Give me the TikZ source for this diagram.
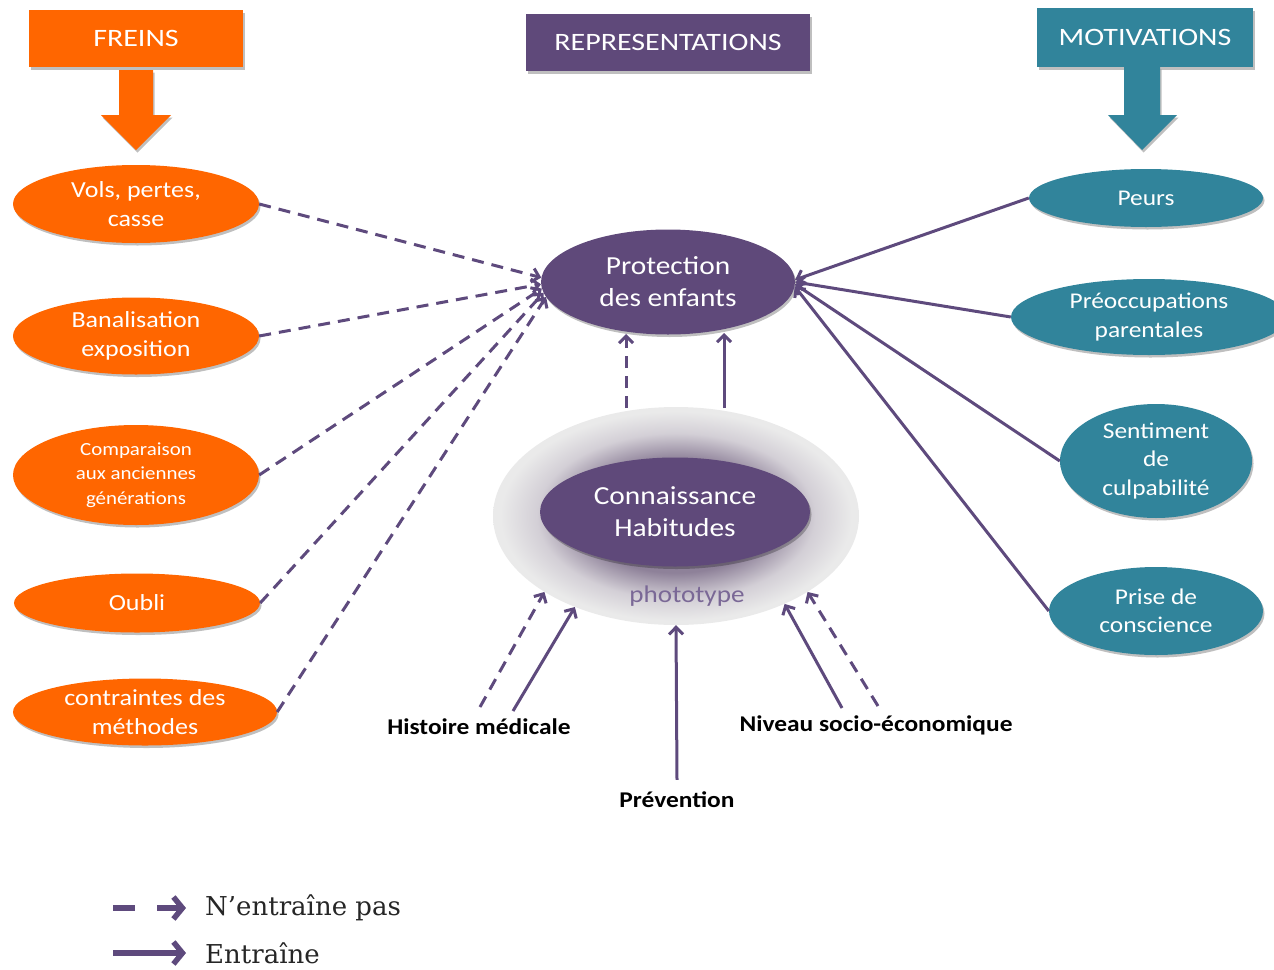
\documentclass[tikz,border=0pt]{standalone}
\usepackage{fontspec}
\setmainfont{Carlito}[FakeStretch=1.13]
\newfontfamily\hdrfont{Carlito}[FakeStretch=1.2]
\newfontfamily\legendfont{DejaVu Serif}
\usetikzlibrary{shapes.geometric,arrows.meta,shadows}
\definecolor{frein}{HTML}{FF6600}
\definecolor{repr}{HTML}{5F497A}
\definecolor{motiv}{HTML}{31849B}
\definecolor{conn}{HTML}{5E4A7D}
\definecolor{photo}{HTML}{7A6896}
\definecolor{glowA}{HTML}{8E8199}
\definecolor{glowB}{HTML}{D3CFD6}
\definecolor{glowC}{HTML}{EAEAEA}
\pgfdeclareradialshading{glowshade}{\pgfpoint{0bp}{0bp}}{color(0bp)=(glowA); color(13bp)=(glowA); color(19bp)=(glowB); color(24bp)=(glowC); color(25bp)=(glowC); color(50bp)=(white)}
\tikzset{
  shd/.style={drop shadow={shadow xshift=1.5pt,shadow yshift=-2.5pt,opacity=0.25,fill=black}},
  header/.style={rectangle,text=white,inner sep=0pt,font=\hdrfont\fontsize{25}{28}\selectfont,shd},
  frellipse/.style={ellipse,fill=frein,text=white,inner sep=0pt,align=center,font=\fontsize{23}{28.5}\selectfont,shd},
  motellipse/.style={ellipse,fill=motiv,text=white,inner sep=0pt,align=center,font=\fontsize{22.5}{28.5}\selectfont,shd},
  repellipse/.style={ellipse,fill=repr,text=white,inner sep=0pt,align=center,font=\fontsize{26}{32}\selectfont,shd},
  blab/.style={font=\bfseries\fontsize{22.5}{26}\selectfont,text=black,inner sep=0pt},
  tip/.style={-{Straight Barb[length=7pt,width=14pt]}},
  notlink/.style={draw=conn,line width=3pt,dash pattern=on 12pt off 8pt,tip},
  yeslink/.style={draw=conn,line width=3pt,tip},
  legtext/.style={font=\legendfont\fontsize{26}{30}\selectfont,text=black!85,anchor=west,inner sep=0pt},
  legarrow/.style={draw=conn,line width=5.5pt,-{Straight Barb[length=9pt,width=22pt]}},
}
\begin{document}
\begin{tikzpicture}[x=1pt,y=-1pt]
\useasboundingbox (0,0) rectangle (1274,969);

% headers
\node[header,fill=frein,minimum width=214pt,minimum height=57pt] (freins) at (136,38.5) {FREINS};
\node[header,fill=repr,minimum width=284pt,minimum height=57pt] (repres) at (668,42.5) {REPRESENTATIONS};
\node[header,fill=motiv,minimum width=216pt,minimum height=59pt] (motiv) at (1145,37.5) {MOTIVATIONS};

% block arrows
\fill[frein,shd] (119,70) -- (153,70) -- (153,115) -- (171,115) -- (136,150) -- (101,115) -- (119,115) -- cycle;
\fill[motiv,shd] (1124,67) -- (1160,67) -- (1160,115) -- (1177,115) -- (1142,150) -- (1108,115) -- (1124,115) -- cycle;

% glow behind Connaissance
\node[ellipse,shading=glowshade,minimum width=366pt,minimum height=218pt,inner sep=0pt] (glow) at (676,516) {};

% central nodes
\node[repellipse,minimum width=254pt,minimum height=105pt] (prot) at (668,282) {Protection\\des enfants};
\node[repellipse,minimum width=270pt,minimum height=109pt] (conn) at (675,512) {Connaissance\\Habitudes};
\node[text=photo,font=\fontsize{24}{28}\selectfont,inner sep=0pt] (photo) at (687,596) {phototype};

% left nodes
\node[frellipse,minimum width=246pt,minimum height=78pt] (vols) at (136,204) {Vols, pertes,\\casse};
\node[frellipse,minimum width=246pt,minimum height=77pt] (banal) at (136,336) {Banalisation\\exposition};
\node[frellipse,minimum width=246pt,minimum height=100pt,font=\fontsize{18.5}{24.5}\selectfont] (compar) at (136,475) {Comparaison\\aux anciennes\\générations};
\node[frellipse,minimum width=246pt,minimum height=59pt] (oubli) at (137,603) {Oubli};
\node[frellipse,minimum width=264pt,minimum height=67pt] (contr) at (145,712) {contraintes des\\méthodes};

% right nodes
\node[motellipse,minimum width=234pt,minimum height=58pt] (peurs) at (1146,198) {Peurs};
\node[motellipse,minimum width=276pt,minimum height=76pt] (preocc) at (1149,317) {Préoccupations\\parentales};
\node[motellipse,minimum width=192pt,minimum height=114pt] (sent) at (1156,461) {Sentiment\\de\\culpabilité};
\node[motellipse,minimum width=214pt,minimum height=88pt] (prise) at (1156,611) {Prise de\\conscience};

% bottom labels
\node[blab] (hist) at (479,727) {Histoire médicale};
\node[blab] (prev) at (677,800) {Prévention};
\node[blab] (niv) at (876,725) {Niveau socio-économique};

% left connectors (dashed)
\draw[notlink] (vols.east) -- (prot.178);
\draw[notlink] (banal.east) -- (prot.181);
\draw[notlink] (compar.east) -- (prot.183);
\draw[notlink] (oubli.east) -- (prot.185);
\draw[notlink] (contr.east) -- (prot.187);

% right connectors (solid)
\draw[yeslink] (peurs.west) -- (prot.1);
\draw[yeslink] (preocc.west) -- (prot.east);
\draw[yeslink] (sent.west) -- (prot.359);
\draw[yeslink] (prise.west) -- (prot.358);

% vertical connectors from glow to Protection
\coordinate (vd) at (626,408);
\coordinate (vs) at (724,408);
\draw[notlink] (vd) -- (626,334);
\draw[yeslink] (vs) -- (724,333);

% bottom connectors
\coordinate (hd) at (480,707);
\coordinate (hs) at (513,711);
\coordinate (ns) at (842,708);
\coordinate (nd) at (878,706);
\draw[notlink] (hd) -- (glow.210);
\draw[yeslink] (hs) -- (glow.222);
\draw[yeslink] (prev.north) ++(0,-12) -- (glow.south);
\draw[yeslink] (ns) -- (glow.321);
\draw[notlink] (nd) -- (glow.330);

% legend
\coordinate (la1) at (113,908);
\coordinate (la2) at (186,908);
\coordinate (lb1) at (113,953);
\coordinate (lb2) at (186,953);
\node[legtext] (l1) at (205,908) {N’entraîne pas};
\node[legtext] (l2) at (205,953) {Entraîne};
\draw[legarrow,dash pattern=on 22pt off 22pt] (la1) -- (la2);
\draw[legarrow] (lb1) -- (lb2);
\end{tikzpicture}
\end{document}
